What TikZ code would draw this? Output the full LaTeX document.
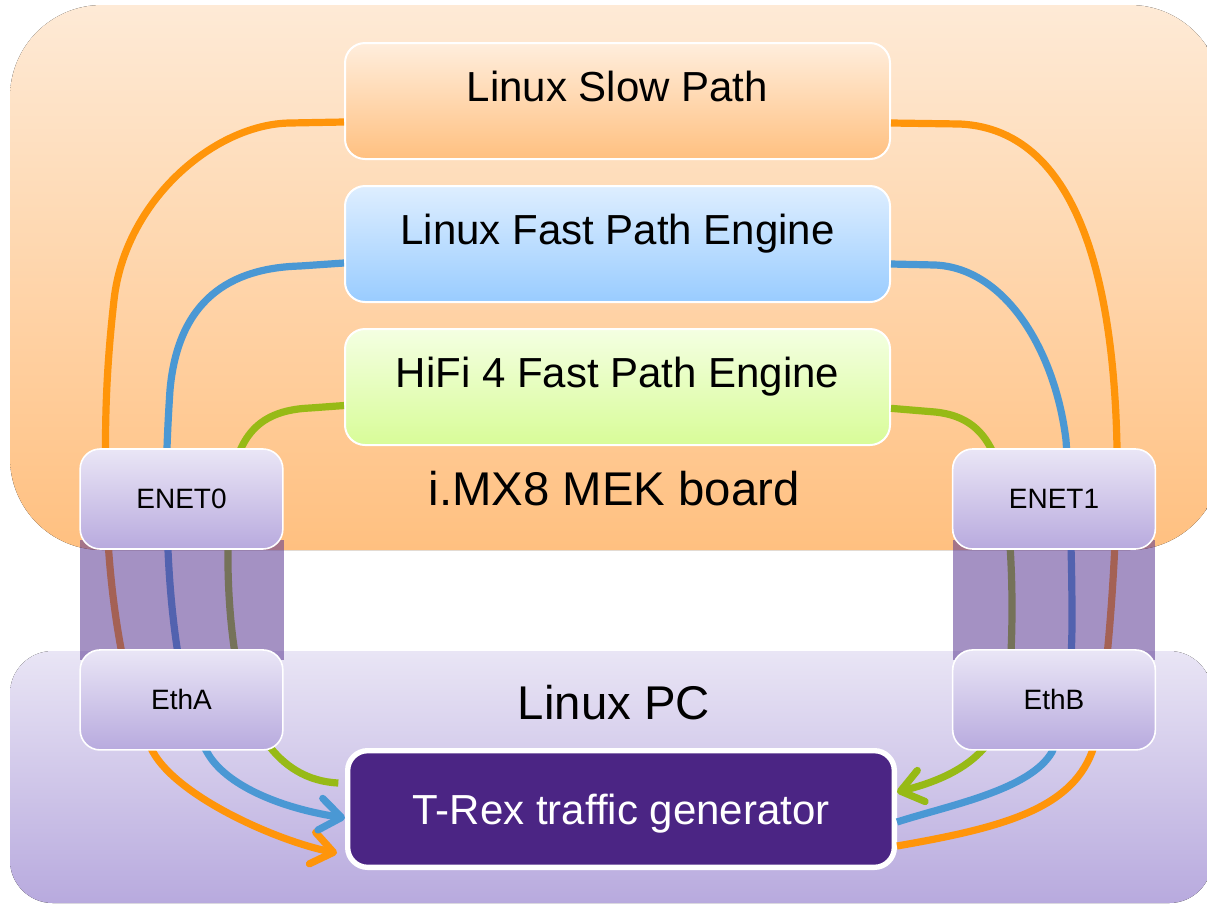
\documentclass[tikz,border=0pt]{standalone}
\usepackage{fontspec}
\setmainfont{Liberation Sans}
\usetikzlibrary{arrows.meta,positioning}

\definecolor{boardtop}{HTML}{FEEAD6}
\definecolor{boardbot}{HTML}{FFC080}
\definecolor{pctop}{HTML}{E9E5F5}
\definecolor{pcbot}{HTML}{B8AADE}
\definecolor{slowtop}{HTML}{FFEEDD}
\definecolor{slowbot}{HTML}{FFC080}
\definecolor{fasttop}{HTML}{DEEEFF}
\definecolor{fastbot}{HTML}{99CCFF}
\definecolor{hifitop}{HTML}{F4FFE2}
\definecolor{hifibot}{HTML}{D8FC98}
\definecolor{porttop}{HTML}{EAE6F6}
\definecolor{portbot}{HTML}{B8AADE}
\definecolor{trexfill}{HTML}{4B2584}
\definecolor{bandpurple}{HTML}{5A3791}
\definecolor{wireorange}{HTML}{FF950A}
\definecolor{wireblue}{HTML}{4A98D4}
\definecolor{wiregreen}{HTML}{97BA16}

\begin{document}
\begin{tikzpicture}[
  x=0.75pt,y=-0.75pt,
  >={Straight Barb[length=16pt,width=24pt,round]},
  pathbox/.style={draw=white,line width=1.5pt,rounded corners=15pt,
    minimum width=408.75pt,minimum height=87pt,text height=22pt,text depth=22pt,
    font=\fontsize{31.5}{36}\selectfont},
  portbox/.style={draw=white,line width=1.2pt,rounded corners=15pt,
    minimum width=152pt,minimum height=75pt,top color=porttop,bottom color=portbot,
    font=\fontsize{21}{25}\selectfont},
  wire/.style={line width=5.4pt},
  band/.style={fill=bandpurple,fill opacity=0.55},
  biglbl/.style={font=\fontsize{35.5}{40}\selectfont}
]
\useasboundingbox (0,0) rectangle (1207,904);
\clip (0,0) rectangle (1207,904);

% board and pc
\fill[top color=boardtop,bottom color=boardbot,rounded corners=69pt] (10,5) rectangle (1222,550);
\fill[top color=pctop,bottom color=pcbot,rounded corners=32pt] (10,651) rectangle (1212,903);
\node[biglbl] (boardlbl) at (614,489) {i.MX8 MEK board};
\node[biglbl] (pclbl) at (614,703) {Linux PC};

% engines
\node[pathbox,top color=slowtop,bottom color=slowbot] (slow) at (617.5,101) {Linux Slow Path};
\node[pathbox,top color=fasttop,bottom color=fastbot,below=18.75pt of slow] (fast) {Linux Fast Path Engine};
\node[pathbox,top color=hifitop,bottom color=hifibot,below=18.75pt of fast] (hifi) {HiFi 4 Fast Path Engine};
\node[draw=white,line width=4pt,rounded corners=15pt,fill=trexfill,text=white,text depth=0pt,
  minimum width=410pt,minimum height=87.5pt,font=\fontsize{31.5}{36}\selectfont] (trex) at (621,809) {T-Rex traffic generator};

% slow path
\draw[wire,draw=wireorange] ([yshift=-27.75pt]trex.east) .. controls (1000,828) and (1070,810) .. (1092,752)
  .. controls (1104,720) and (1118,560) .. (1117,447)
  .. controls (1114,300) and (1085,130) .. (960,124) -- ([yshift=-16.5pt]slow.east);
\draw[wire,draw=wireorange,->] ([yshift=-15.75pt]slow.west) -- (290,123)
  .. controls (215,124) and (125,200) .. (114,300)
  .. controls (105,380) and (104,440) .. (107,520)
  .. controls (110,600) and (125,700) .. (153,752)
  .. controls (178,797) and (277,841) .. ([xshift=-6pt,yshift=-33pt]trex.west);

% fast path
\draw[wire,draw=wireblue] ([yshift=-9.75pt]trex.east) .. controls (950,805) and (1030,790) .. (1052,752)
  .. controls (1065,720) and (1072,680) .. (1072,620)
  .. controls (1072,560) and (1070,500) .. (1066,440)
  .. controls (1055,350) and (1005,268) .. (935,265) -- ([yshift=-15pt]fast.east);
\draw[wire,draw=wireblue,->] ([yshift=-14.25pt]fast.west) -- (300,266)
  .. controls (230,268) and (178,300) .. (170,390)
  .. controls (166,450) and (165,500) .. (168,550)
  .. controls (171,620) and (182,710) .. (207,752)
  .. controls (225,785) and (280,808) .. ([yshift=-6.75pt]trex.west);

% hifi path
\draw[wire,draw=wiregreen] ([xshift=-5pt,yshift=19.5pt]trex.west) .. controls (275,780) and (245,720) .. (236,660)
  .. controls (226,600) and (226,530) .. (232,480)
  .. controls (240,430) and (265,410) .. (310,408) -- ([yshift=-13.9pt]hifi.west);
\draw[wire,draw=wiregreen,->] ([yshift=-16pt]hifi.east) -- (935,412)
  .. controls (975,416) and (995,440) .. (1004,490)
  .. controls (1012,540) and (1014,610) .. (1010,670)
  .. controls (1008,730) and (985,770) .. ([yshift=12.75pt]trex.east);

% cables
\fill[band] (80,540) rectangle (284,660);
\fill[band] (953,540) rectangle (1155,660);

% ports
\node[portbox] (enet0) at (181.5,499) {ENET0};
\node[portbox] (enet1) at (1054,499) {ENET1};
\node[portbox,below=74.5pt of enet0] (etha) {EthA};
\node[portbox,below=74.5pt of enet1] (ethb) {EthB};
\end{tikzpicture}
\end{document}
